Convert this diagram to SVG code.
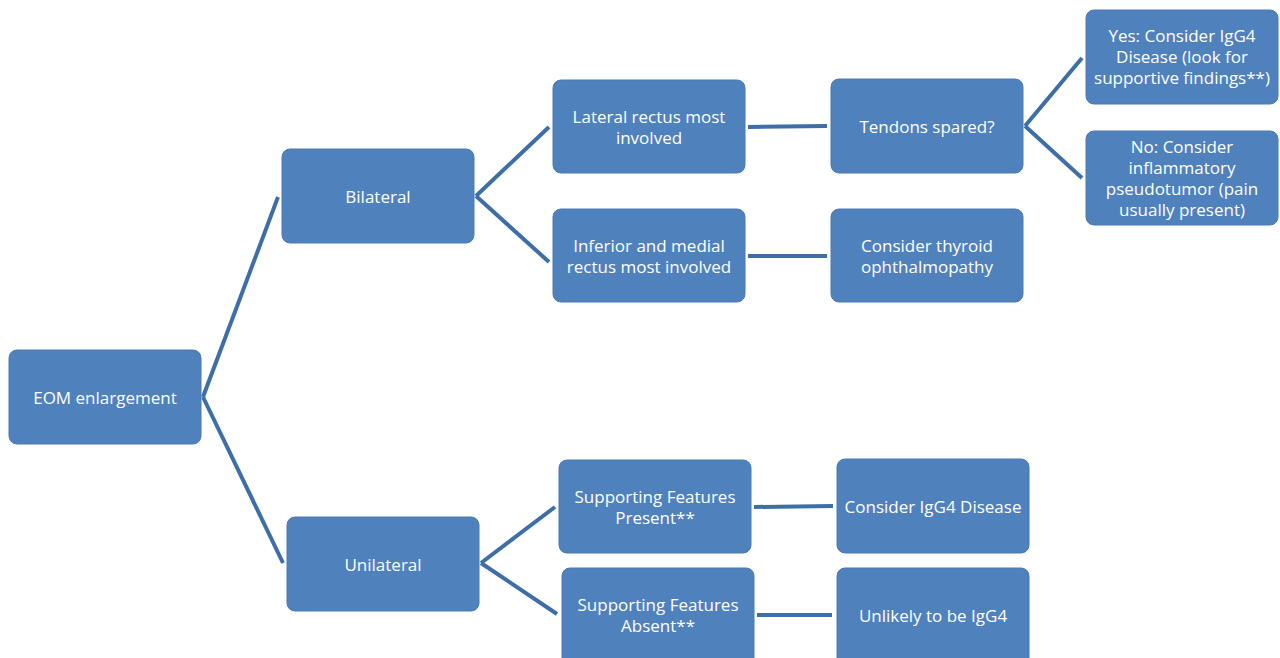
<svg xmlns="http://www.w3.org/2000/svg" width="1280" height="658" viewBox="0 0 1280 658">
<style>
.n rect{fill:#4f81bd;stroke:#4a7ab4;stroke-width:1}
.n text{fill:#ffffff;font-family:"Open Sans","Noto Sans",sans-serif;font-size:17px;text-anchor:middle;dominant-baseline:central}
.c line{stroke:#3e6ea8;stroke-width:4;stroke-linecap:butt}
</style>
<rect width="1280" height="658" fill="#ffffff"/>
<g class="c" id="connectors">
<line x1="203" y1="397" x2="278" y2="197"/>
<line x1="203" y1="397" x2="283" y2="563"/>
<line x1="476" y1="196" x2="549" y2="127"/>
<line x1="476" y1="196" x2="549" y2="262"/>
<line x1="481" y1="563" x2="555" y2="507"/>
<line x1="481" y1="563" x2="557" y2="614"/>
<line x1="748" y1="127" x2="827" y2="126"/>
<line x1="748" y1="256" x2="827" y2="256"/>
<line x1="1025" y1="126" x2="1082" y2="58"/>
<line x1="1025" y1="126" x2="1082" y2="178"/>
<line x1="754" y1="507" x2="833" y2="506"/>
<line x1="757" y1="615" x2="832" y2="615"/>
</g>
<g class="n" id="eom"><rect x="9" y="350" width="192" height="94" rx="8"/><text x="105" y="397">EOM enlargement</text></g>
<g class="n" id="bilateral"><rect x="282" y="149" width="192" height="94" rx="8"/><text x="378" y="196">Bilateral</text></g>
<g class="n" id="unilateral"><rect x="287" y="517" width="192" height="94" rx="8"/><text x="383" y="564">Unilateral</text></g>
<g class="n" id="lateral"><rect x="553" y="80" width="192" height="93" rx="8"/><text x="649" y="116">Lateral rectus most</text><text x="649" y="137">involved</text></g>
<g class="n" id="inferior"><rect x="553" y="209" width="192" height="93" rx="8"/><text x="649" y="245">Inferior and medial</text><text x="649" y="266">rectus most involved</text></g>
<g class="n" id="tendons"><rect x="831" y="79" width="192" height="94" rx="8"/><text x="927" y="126">Tendons spared?</text></g>
<g class="n" id="thyroid"><rect x="831" y="209" width="192" height="93" rx="8"/><text x="927" y="245">Consider thyroid</text><text x="927" y="266">ophthalmopathy</text></g>
<g class="n" id="yes"><rect x="1086" y="10" width="192" height="94" rx="8"/><text x="1182" y="35">Yes: Consider IgG4</text><text x="1182" y="56">Disease (look for</text><text x="1182" y="77">supportive findings**)</text></g>
<g class="n" id="no"><rect x="1086" y="131" width="192" height="94" rx="8"/><text x="1182" y="146">No: Consider</text><text x="1182" y="167">inflammatory</text><text x="1182" y="188">pseudotumor (pain</text><text x="1182" y="209">usually present)</text></g>
<g class="n" id="present"><rect x="559" y="460" width="192" height="93" rx="8"/><text x="655" y="496">Supporting Features</text><text x="655" y="517">Present**</text></g>
<g class="n" id="absent"><rect x="562" y="568" width="192" height="100" rx="8"/><text x="658" y="604">Supporting Features</text><text x="658" y="625">Absent**</text></g>
<g class="n" id="igg4"><rect x="837" y="459" width="192" height="94" rx="8"/><text x="933" y="506">Consider IgG4 Disease</text></g>
<g class="n" id="unlikely"><rect x="837" y="568" width="192" height="100" rx="8"/><text x="933" y="615">Unlikely to be IgG4</text></g>
</svg>
